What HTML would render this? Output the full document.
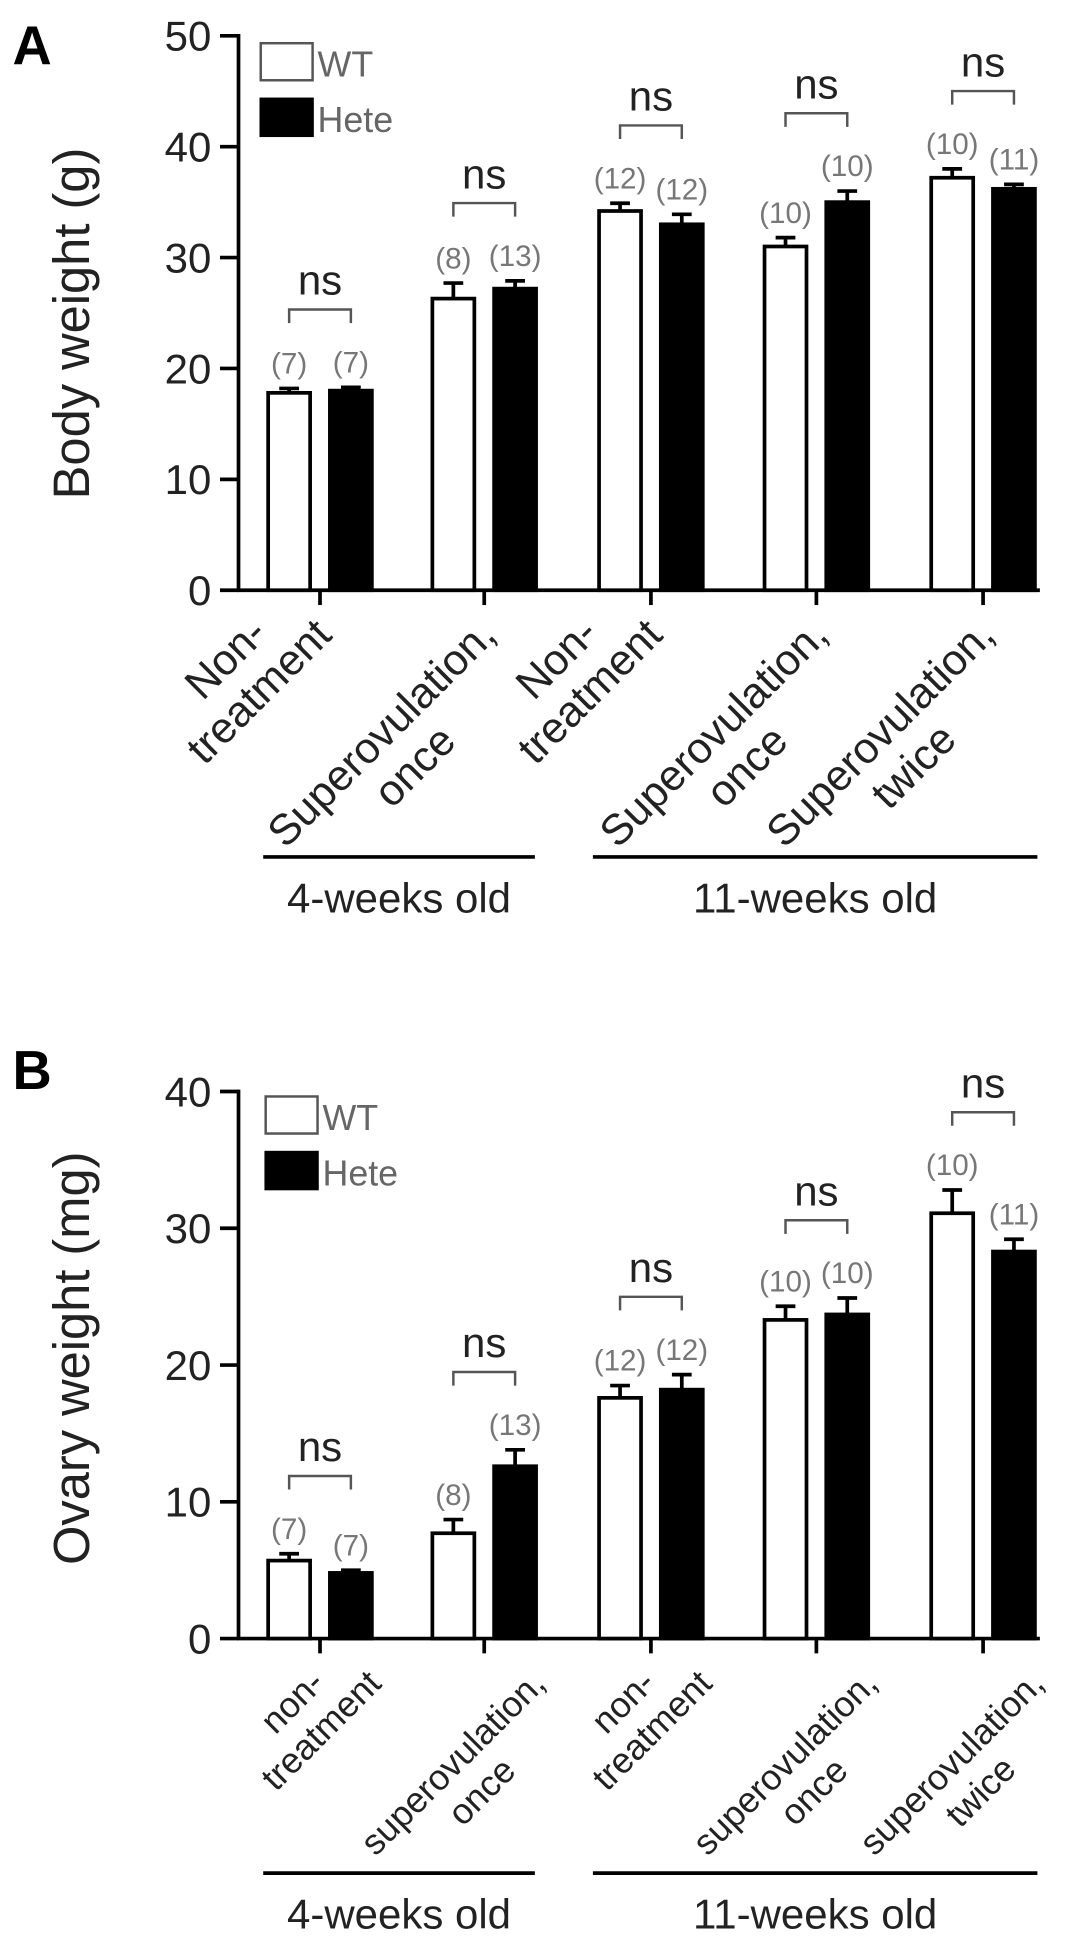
<!DOCTYPE html>
<html><head><meta charset="utf-8"><style>
html,body{margin:0;padding:0;background:#fff;}
svg{display:block;font-family:"Liberation Sans",Arial,sans-serif;}
</style></head><body>
<svg id="fig" width="1087" height="1946" viewBox="0 0 880 1576" xmlns="http://www.w3.org/2000/svg"></svg>
<script>
const groupCenters = [259, 392, 527, 661, 796];
const bodyWT = [17.8, 26.3, 34.2, 31.0, 37.2];
const bodyHete = [18.0, 27.2, 33.0, 35.0, 36.2];
const bodyWTerr = [0.4, 1.4, 0.7, 0.8, 0.8];
const bodyHeteErr = [0.3, 0.7, 0.9, 1.0, 0.4];
const bodyN_WT = ["(7)", "(8)", "(12)", "(10)", "(10)"];
const bodyN_Hete = ["(7)", "(13)", "(12)", "(10)", "(11)"];
const bodyTicks = [0, 10, 20, 30, 40, 50];
const bodyLabels = [["Non-","treatment"],["Superovulation,","once"],["Non-","treatment"],["Superovulation,","once"],["Superovulation,","twice"]];

const ovWT = [5.7, 7.7, 17.6, 23.3, 31.1];
const ovHete = [4.8, 12.6, 18.2, 23.7, 28.3];
const ovWTerr = [0.5, 1.0, 0.9, 1.0, 1.7];
const ovHeteErr = [0.2, 1.2, 1.1, 1.2, 0.9];
const ovN_WT = ["(7)", "(8)", "(12)", "(10)", "(10)"];
const ovN_Hete = ["(7)", "(13)", "(12)", "(10)", "(11)"];
const ovTicks = [0, 10, 20, 30, 40];
const ovLabels = [["non-","treatment"],["superovulation,","once"],["non-","treatment"],["superovulation,","once"],["superovulation,","twice"]];

const svg = document.getElementById('fig');
const NS = 'http://www.w3.org/2000/svg';
function mk(tag, attrs, parent, text){
  const e = document.createElementNS(NS, tag);
  for (const k in attrs) e.setAttribute(k, attrs[k]);
  if (text !== undefined) e.textContent = text;
  (parent || svg).appendChild(e);
  return e;
}

function panel(o){
  const g = mk('g', {});
  
  
  const y = v => o.y0 - (v / o.max) * (o.y0 - o.yTop);
  const L = mk('text', {x: 10, y: o.letterY, 'font-size': 44, 'font-weight': 'bold'}, g, o.letter);
  
  
  const ax = mk('line', {x1: 193, y1: o.yTop - 1.5, x2: 193, y2: o.y0, stroke: '#000', 'stroke-width': 3}, g);
  
  
  o.ticks.forEach(t => {
    const tl = mk('line', {x1: 178, y1: y(t), x2: 193, y2: y(t), stroke: '#000', 'stroke-width': 3}, g);
    
    
    const tt = mk('text', {x: 171, y: y(t) + 12, 'font-size': 34, 'text-anchor': 'end', fill: '#222'}, g, String(t));
    
    
  });
  const yt = mk('text', {x: 0, y: 0, 'font-size': 41, 'text-anchor': 'middle', fill: '#222', transform: `translate(72,${o.titleY}) rotate(-90)`}, g, o.title);
  
  
  const xa = mk('line', {x1: 192, y1: o.y0, x2: 842, y2: o.y0, stroke: '#000', 'stroke-width': 3}, g);
  
  
  groupCenters.forEach((c, i) => {
    const sets = [[o.wt[i], o.wtErr[i], o.nWT[i], c - 42, '#fff', 'wt'], [o.hete[i], o.heteErr[i], o.nHete[i], c + 8, '#000', 'hete']];
    let maxTop = o.y0;
    sets.forEach(s => {
      const [v, e, n, x, fill, nm] = s;
      const bw = 34;
      const cx = x + bw / 2;
      const et = y(v + e);
      const el = mk('line', {x1: cx, y1: y(v), x2: cx, y2: et, stroke: '#000', 'stroke-width': 3}, g);
      
      
      const ec = mk('line', {x1: cx - 8, y1: et, x2: cx + 8, y2: et, stroke: '#000', 'stroke-width': 3}, g);
      
      
      const r = mk('rect', {x: x, y: y(v), width: bw, height: o.y0 - y(v), fill: fill, stroke: '#000', 'stroke-width': 3}, g);
      
      
      const nt = mk('text', {x: cx, y: et - 12, 'font-size': 24, 'text-anchor': 'middle', fill: '#777'}, g, n);
      
      
      maxTop = Math.min(maxTop, et);
    });
    const by = maxTop - 63;
    const br = mk('path', {d: `M${c-25},${by+11} V${by} H${c+25} V${by+11}`, fill: 'none', stroke: '#555', 'stroke-width': 2}, g);
    
    
    const ns = mk('text', {x: c, y: by - 12, 'font-size': 34, 'text-anchor': 'middle', fill: '#222'}, g, 'ns');
    
    
    const xt = mk('line', {x1: c, y1: o.y0, x2: c, y2: o.y0 + 12, stroke: '#000', 'stroke-width': 3}, g);
    
    
    // category label: longest line right-aligned at anchor, other line centred on it
    const lg = mk('g', {transform: `translate(${c + o.lx},${o.y0 + o.ly}) rotate(-45)`}, g);
    
    
    const lines = o.labels[i];
    const t1 = mk('text', {x: 0, y: 0, 'font-size': o.lfs, fill: '#222'}, lg, lines[0]);
    const t2 = mk('text', {x: 0, y: 0, 'font-size': o.lfs, fill: '#222'}, lg, lines[1]);
    const w1 = t1.getComputedTextLength(), w2 = t2.getComputedTextLength();
    if (w2 >= w1) {
      t2.setAttribute('x', -w2); t2.setAttribute('y', 0);
      t1.setAttribute('x', -w2 / 2 - w1 / 2); t1.setAttribute('y', -o.lh);
    } else {
      t1.setAttribute('x', -w1); t1.setAttribute('y', 0);
      t2.setAttribute('x', -w1 / 2 - w2 / 2); t2.setAttribute('y', o.lh);
    }
  });
  [[213, 433, '4-weeks old'], [480, 840, '11-weeks old']].forEach(gl => {
    const l = mk('line', {x1: gl[0], y1: o.gy, x2: gl[1], y2: o.gy, stroke: '#000', 'stroke-width': 3}, g);
    
    
    const t = mk('text', {x: (gl[0] + gl[1]) / 2, y: o.gy + 45, 'font-size': 34, 'text-anchor': 'middle', fill: '#222'}, g, gl[2]);
    
    
  });
  const lw = mk('rect', {x: o.legX, y: o.legY, width: 42, height: 30, fill: '#fff', stroke: '#555', 'stroke-width': 2}, g);
  
  
  const lwt = mk('text', {x: o.legX + 46, y: o.legY + 27, 'font-size': 29, fill: '#666'}, g, 'WT');
  
  
  const lh = mk('rect', {x: o.legX, y: o.legY + 45, width: 42, height: 30, fill: '#000', stroke: '#000', 'stroke-width': 2}, g);
  
  
  const lht = mk('text', {x: o.legX + 46, y: o.legY + 72, 'font-size': 29, fill: '#666'}, g, 'Hete');
  
  
}

panel({name: 'panel-a-body-weight', letter: 'A', letterY: 52, y0: 478, yTop: 29, max: 50, ticks: bodyTicks,
  title: 'Body weight (g)', titleY: 262, wt: bodyWT, hete: bodyHete, wtErr: bodyWTerr, heteErr: bodyHeteErr,
  nWT: bodyN_WT, nHete: bodyN_Hete, labels: bodyLabels, lx: 11, ly: 38, lh: 38, lfs: 35,
  gy: 694, legX: 211, legY: 35});
panel({name: 'panel-b-ovary-weight', letter: 'B', letterY: 882, y0: 1327, yTop: 884, max: 40, ticks: ovTicks,
  title: 'Ovary weight (mg)', titleY: 1100, wt: ovWT, hete: ovHete, wtErr: ovWTerr, heteErr: ovHeteErr,
  nWT: ovN_WT, nHete: ovN_Hete, labels: ovLabels, lx: 51, ly: 38, lh: 33, lfs: 29,
  gy: 1517, legX: 215, legY: 888});
</script>
</body></html>
